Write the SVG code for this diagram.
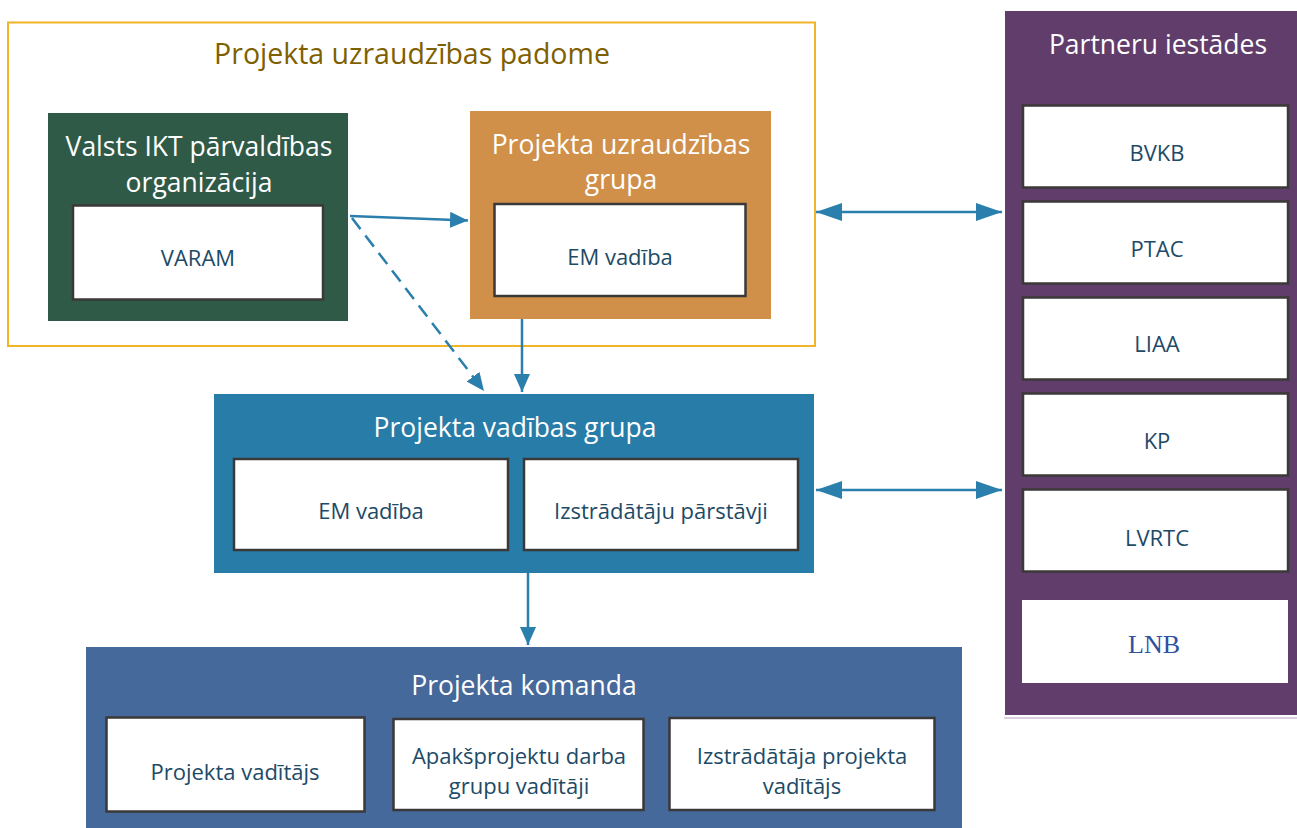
<svg xmlns="http://www.w3.org/2000/svg" width="1297" height="828" viewBox="0 0 1297 828">
<style>
text{font-family:"Open Sans","Noto Sans",sans-serif;text-anchor:middle}
.t{fill:#ffffff;font-size:26.5px}
.s{fill:#1d4a66;font-size:22px}
.sb{fill:#ffffff;stroke:#3b3838;stroke-width:2.5}
.c{stroke:#2b7fac;stroke-width:2.5;fill:none}
</style>
<defs>
<marker id="a" markerUnits="userSpaceOnUse" markerWidth="18" markerHeight="16" refX="18" refY="8" orient="auto"><path d="M0,0 L18,8 L0,16 z" fill="#2b7fac"/></marker>
<marker id="b" markerUnits="userSpaceOnUse" markerWidth="26" markerHeight="18" refX="26" refY="9" orient="auto-start-reverse"><path d="M0,0 L26,9 L0,18 z" fill="#2b7fac"/></marker>
</defs>
<rect width="1297" height="828" fill="#ffffff"/>

<g id="padome">
<rect x="8" y="22.5" width="807" height="323.5" fill="none" stroke="#f0b429" stroke-width="2"/>
<text x="412" y="64" style="fill:#7f6000;font-size:28.5px">Projekta uzraudzības padome</text>
</g>

<g id="ikt">
<rect x="48" y="113" width="300" height="208" fill="#305a48"/>
<text class="t" x="199" y="156">Valsts IKT pārvaldības</text>
<text class="t" x="199" y="192">organizācija</text>
</g>
<g id="varam">
<rect class="sb" x="73" y="205.5" width="250" height="94"/>
<text class="s" x="198" y="266">VARAM</text>
</g>

<g id="uzr-grupa">
<rect x="470" y="111" width="301" height="208" fill="#d0904a"/>
<text class="t" x="621" y="154">Projekta uzraudzības</text>
<text class="t" x="621" y="189">grupa</text>
</g>
<g id="em1">
<rect class="sb" x="494.5" y="204" width="251" height="92"/>
<text class="s" x="620" y="265">EM vadība</text>
</g>

<g id="vadibas-grupa">
<rect x="214" y="394" width="600" height="179" fill="#287ca8"/>
<text class="t" x="515" y="437">Projekta vadības grupa</text>
</g>
<g id="em2">
<rect class="sb" x="234" y="459" width="274" height="91"/>
<text class="s" x="371" y="519">EM vadība</text>
</g>
<g id="izstr">
<rect class="sb" x="524" y="459" width="274" height="91"/>
<text class="s" x="661" y="519">Izstrādātāju pārstāvji</text>
</g>

<g id="komanda">
<rect x="86" y="647" width="876" height="181" fill="#45699b"/>
<text class="t" x="524" y="695">Projekta komanda</text>
</g>
<g id="pv">
<rect class="sb" x="106.5" y="717.5" width="258" height="94"/>
<text class="s" x="235" y="780">Projekta vadītājs</text>
</g>
<g id="apaks">
<rect class="sb" x="393.5" y="719" width="250" height="91"/>
<text class="s" x="519" y="764">Apakšprojektu darba</text>
<text class="s" x="519" y="794">grupu vadītāji</text>
</g>
<g id="izpv">
<rect class="sb" x="669.5" y="718" width="265" height="92"/>
<text class="s" x="802" y="764">Izstrādātāja projekta</text>
<text class="s" x="802" y="794">vadītājs</text>
</g>

<g id="partneri">
<rect x="1005" y="11" width="292" height="704" fill="#613d6b"/>
<line x1="1004" y1="718" x2="1297" y2="718" stroke="#b9a0c0" stroke-width="1"/>
<text class="t" x="1158" y="54">Partneru iestādes</text>
</g>
<g id="bvkb"><rect class="sb" x="1023" y="105.5" width="265" height="82"/><text class="s" x="1157" y="161">BVKB</text></g>
<g id="ptac"><rect class="sb" x="1023" y="201.5" width="265" height="82"/><text class="s" x="1157" y="257">PTAC</text></g>
<g id="liaa"><rect class="sb" x="1023" y="297.5" width="265" height="82"/><text class="s" x="1157" y="352">LIAA</text></g>
<g id="kp"><rect class="sb" x="1023" y="393.5" width="265" height="82"/><text class="s" x="1157" y="449">KP</text></g>
<g id="lvrtc"><rect class="sb" x="1023" y="489.5" width="265" height="82"/><text class="s" x="1157" y="546">LVRTC</text></g>
<g id="lnb"><rect x="1022" y="600" width="266" height="83" fill="#ffffff"/><text x="1154" y="653" style="font-family:'Liberation Serif',serif;fill:#3050a0;font-size:26px">LNB</text></g>

<g id="connectors">
<line class="c" x1="350" y1="216" x2="468" y2="220.5" marker-end="url(#a)"/>
<line class="c" x1="352" y1="218" x2="484" y2="391" stroke-dasharray="14 8" marker-end="url(#a)"/>
<line class="c" x1="522" y1="319" x2="522" y2="392" marker-end="url(#a)"/>
<line class="c" x1="528" y1="573" x2="528" y2="645" marker-end="url(#a)"/>
<line class="c" x1="816" y1="212" x2="1002" y2="212" marker-start="url(#b)" marker-end="url(#b)"/>
<line class="c" x1="816" y1="490" x2="1002" y2="490" marker-start="url(#b)" marker-end="url(#b)"/>
</g>
</svg>
